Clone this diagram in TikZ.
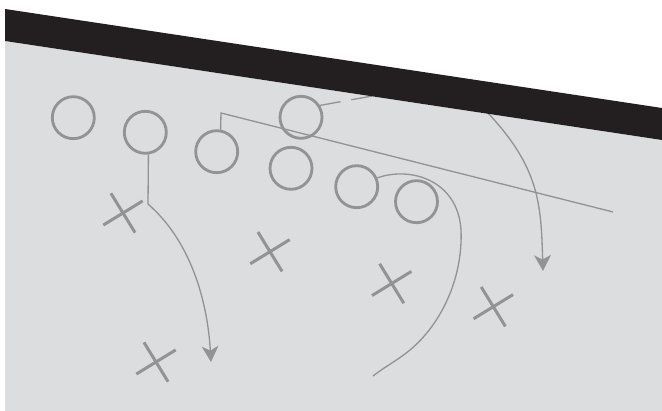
\documentclass[tikz,border=0pt]{standalone}
\usepackage{tikz}
\usetikzlibrary{arrows.meta, positioning, shapes.misc}
\definecolor{field}{RGB}{220,221,223}
\definecolor{band}{RGB}{35,31,32}
\definecolor{ink}{RGB}{147,147,147}

\begin{document}
\begin{tikzpicture}[x=0.02cm, y=-0.02cm,
	player/.style={circle, draw=ink, line width=1.6pt, minimum size=0.84cm, inner sep=0pt},
	defender/.style={cross out, draw=ink, line width=1.7pt, minimum size=0.594cm, inner sep=0pt, rotate=-13.5},
	route/.style={draw=ink, line width=0.75pt},
	routeend/.style={-{Stealth[length=9pt, width=9.5pt, inset=2.5pt]}}]
	% Field, players and routes:
	\useasboundingbox (0,0) rectangle (662,411);
	\fill[white] (0,0) rectangle (662,411);
	\fill[field] (5,41) -- (662,140) -- (662,411) -- (5,411) -- cycle;
	\node[player](O1) at (73.3,117.7){};
	\node[player](O2) at (145.3,132.3){};
	\node[player](O3) at (216.7,151.7){};
	\node[player](O4) at (301,117.3){};
	\node[player](O5) at (291,168.3){};
	\node[player](O6) at (356.7,186.7){};
	\node[player](O7) at (416.5,201.7){};
	\node[defender](X1) at (123,213){};
	\node[defender](X2) at (270,251.7){};
	\node[defender](X3) at (156,362){};
	\node[defender](X4) at (391.7,283.5){};
	\node[defender](X5) at (493.3,306.7){};
	\coordinate (K1) at (148,204);
	\coordinate (T1) at (211,362);
	\coordinate (K2) at (221,113);
	\coordinate (E2) at (613,212);
	\coordinate (E3) at (372,96);
	\coordinate (E4) at (373,376);
	\coordinate (S5) at (487,112);
	\coordinate (T5) at (543,271);
	\draw[route, routeend] (O2.-82) -- (K1) .. controls (195,245) and (208,310) .. (T1);
	\draw[route] (O3.80) -- (K2) -- (E2);
	\draw[route, dash pattern=on 11.9pt off 6.2pt] (O4.32) -- (E3);
	\draw[route] (O6.23) .. controls (410,166) and (458,180) .. (461,230)
		.. controls (463,280) and (440,325) .. (410,350)
		.. controls (398,360) and (383,368) .. (E4);
	\draw[route, routeend] (S5) .. controls (540,168) and (541,205) .. (T5);
	\fill[band] (5,9) -- (662,108) -- (662,140) -- (5,41) -- cycle;
\end{tikzpicture}
\end{document}
